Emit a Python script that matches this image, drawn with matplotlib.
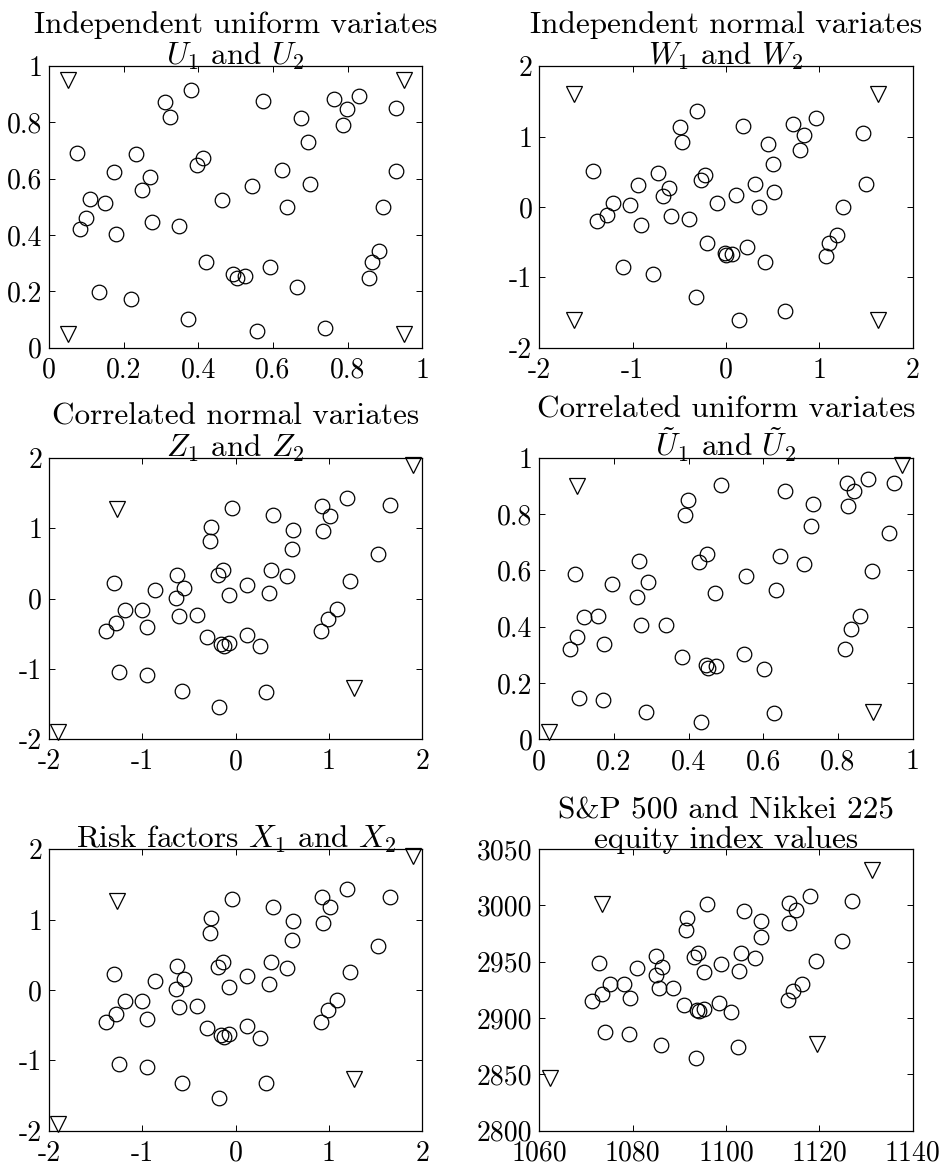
import matplotlib
matplotlib.use("Agg")
import matplotlib.pyplot as plt
from matplotlib.ticker import FuncFormatter

plt.rcParams["font.family"] = "cmr10"
plt.rcParams["mathtext.fontset"] = "cm"
plt.rcParams["axes.unicode_minus"] = False

# ── data ──────────────────────────────────────────────────────────────────────
# independent uniform variates U1, U2
u1 = [0.074, 0.083, 0.100, 0.110, 0.151, 0.174, 0.180, 0.134, 0.219, 0.233,
      0.249, 0.271, 0.277, 0.312, 0.323, 0.348, 0.380, 0.373, 0.396, 0.412,
      0.420, 0.464, 0.493, 0.504, 0.526, 0.543, 0.556, 0.574, 0.593, 0.624,
      0.638, 0.663, 0.674, 0.693, 0.699, 0.738, 0.763, 0.797, 0.788, 0.831,
      0.857, 0.865, 0.884, 0.896, 0.929, 0.930]
u2 = [0.693, 0.420, 0.459, 0.527, 0.515, 0.623, 0.402, 0.197, 0.173, 0.687,
      0.559, 0.606, 0.447, 0.872, 0.820, 0.433, 0.914, 0.102, 0.648, 0.675,
      0.303, 0.524, 0.260, 0.248, 0.253, 0.573, 0.058, 0.876, 0.286, 0.632,
      0.501, 0.217, 0.817, 0.731, 0.582, 0.070, 0.884, 0.849, 0.790, 0.895,
      0.246, 0.305, 0.344, 0.500, 0.852, 0.629]
u_tri1 = [0.05, 0.95, 0.05, 0.95]
u_tri2 = [0.95, 0.95, 0.05, 0.05]

# independent normal variates W1, W2
w1 = [-1.428, -1.385, -1.278, -1.214, -1.028, -0.938, -0.910, -1.106, -0.785, -0.731,
      -0.677, -0.613, -0.588, -0.488, -0.467, -0.395, -0.313, -0.324, -0.266, -0.220,
      -0.206, -0.091, -0.013, 0.002, 0.063, 0.105, 0.145, 0.184, 0.231, 0.313,
      0.356, 0.417, 0.449, 0.499, 0.517, 0.638, 0.717, 0.796, 0.835, 0.960,
      1.071, 1.100, 1.189, 1.257, 1.472, 1.497]
w2 = [0.506, -0.199, -0.109, 0.061, 0.033, 0.307, -0.251, -0.851, -0.955, 0.487,
      0.151, 0.270, -0.132, 1.130, 0.927, -0.170, 1.357, -1.277, 0.388, 0.459,
      -0.511, 0.057, -0.648, -0.686, -0.662, 0.170, -1.607, 1.154, -0.572, 0.331,
      0.000, -0.780, 0.898, 0.615, 0.208, -1.485, 1.182, 0.804, 1.026, 1.262,
      -0.695, -0.511, -0.397, 0.000, 1.054, 0.326]
w_tri1 = [-1.63, 1.63, -1.63, 1.63]
w_tri2 = [1.61, 1.61, -1.61, -1.61]

# correlated normal variates Z1, Z2 (also the risk factors X1, X2)
z1 = [-1.393, -1.307, -1.279, -1.250, -1.182, -1.004, -0.946, -0.950, -0.861, -0.629,
      -0.639, -0.550, -0.604, -0.575, -0.418, -0.304, -0.268, -0.279, -0.189, -0.136,
      -0.175, -0.154, -0.125, -0.071, -0.075, -0.036, 0.118, 0.125, 0.261, 0.325,
      0.354, 0.375, 0.404, 0.546, 0.607, 0.614, 0.914, 0.993, 0.925, 0.939,
      1.011, 1.089, 1.189, 1.225, 1.529, 1.654]
z2 = [-0.458, 0.221, -0.349, -1.046, -0.159, -0.159, -0.410, -1.089, 0.126, 0.339,
      0.007, 0.150, -0.244, -1.317, -0.235, -0.548, 1.023, 0.814, 0.330, 0.401,
      -1.535, -0.643, -0.671, -0.633, 0.045, 1.293, -0.515, 0.197, -0.681, -1.326,
      0.078, 0.401, 1.184, 0.315, 0.705, 0.980, -0.458, -0.287, 1.321, 0.956,
      1.179, -0.149, 1.431, 0.249, 0.629, 1.326]
z_tri1 = [1.90, -1.27, 1.27, -1.90]
z_tri2 = [1.90, 1.27, -1.27, -1.90]

# correlated uniform variates
v1 = [0.081, 0.100, 0.119, 0.096, 0.106, 0.156, 0.174, 0.172, 0.195, 0.261,
      0.267, 0.273, 0.292, 0.285, 0.339, 0.382, 0.391, 0.399, 0.427, 0.449,
      0.432, 0.446, 0.452, 0.474, 0.470, 0.488, 0.548, 0.554, 0.601, 0.629,
      0.635, 0.646, 0.659, 0.710, 0.727, 0.732, 0.820, 0.836, 0.860, 0.823,
      0.826, 0.844, 0.881, 0.890, 0.936, 0.950]
v2 = [0.321, 0.364, 0.435, 0.586, 0.148, 0.437, 0.340, 0.140, 0.550, 0.505,
      0.635, 0.405, 0.559, 0.096, 0.406, 0.292, 0.795, 0.849, 0.628, 0.657,
      0.060, 0.265, 0.253, 0.261, 0.518, 0.902, 0.304, 0.579, 0.248, 0.093,
      0.531, 0.652, 0.881, 0.623, 0.758, 0.836, 0.320, 0.390, 0.438, 0.909,
      0.830, 0.883, 0.925, 0.599, 0.732, 0.909]
v_tri1 = [0.100, 0.971, 0.895, 0.027]
v_tri2 = [0.898, 0.973, 0.098, 0.027]

# S&P 500 and Nikkei 225 index values
sp = [1071.4, 1072.9, 1073.4, 1074.0, 1075.2, 1078.2, 1079.4, 1079.3, 1080.9, 1085.0,
      1085.0, 1086.4, 1085.6, 1086.1, 1088.7, 1091.1, 1091.7, 1091.5, 1093.2, 1094.1,
      1093.5, 1093.9, 1094.3, 1095.2, 1095.2, 1095.9, 1098.6, 1098.9, 1101.0, 1102.5,
      1102.8, 1103.3, 1103.9, 1106.3, 1107.5, 1107.6, 1113.2, 1114.4, 1113.5, 1113.6,
      1115.0, 1116.3, 1118.1, 1119.2, 1124.8, 1127.0]
nk = [2915.4, 2948.5, 2921.3, 2887.6, 2930.2, 2930.2, 2917.8, 2886.1, 2944.4, 2955.3,
      2938.5, 2945.0, 2926.6, 2875.7, 2926.6, 2911.8, 2988.5, 2978.1, 2953.8, 2957.7,
      2864.2, 2907.1, 2906.5, 2908.0, 2940.5, 3001.2, 2913.3, 2948.2, 2905.0, 2874.6,
      2942.0, 2957.7, 2995.3, 2953.3, 2972.2, 2986.4, 2915.7, 2924.3, 3002.4, 2984.3,
      2995.6, 2930.5, 3008.3, 2950.6, 2968.6, 3003.6]
idx_tri1 = [1073.4, 1131.4, 1119.6, 1062.3]
idx_tri2 = [3000.9, 3031.9, 2876.6, 2846.4]

unit_ticks = [0, 0.2, 0.4, 0.6, 0.8, 1]
norm_ticks = [-2, -1, 0, 1, 2]
sp_ticks = [1060, 1080, 1100, 1120, 1140]
nk_ticks = [2800, 2850, 2900, 2950, 3000, 3050]

panels = [
    ("Independent uniform variates\n$U_1$ and $U_2$", u1, u2, u_tri1, u_tri2,
     unit_ticks, unit_ticks),
    ("Independent normal variates\n$W_1$ and $W_2$", w1, w2, w_tri1, w_tri2,
     norm_ticks, norm_ticks),
    ("Correlated normal variates\n$Z_1$ and $Z_2$", z1, z2, z_tri1, z_tri2,
     norm_ticks, norm_ticks),
    ("Correlated uniform variates\n$\\tilde{U}_1$ and $\\tilde{U}_2$", v1, v2, v_tri1, v_tri2,
     unit_ticks, unit_ticks),
    ("Risk factors $X_1$ and $X_2$", z1, z2, z_tri1, z_tri2,
     norm_ticks, norm_ticks),
    ("S&P 500 and Nikkei 225\nequity index values", sp, nk, idx_tri1, idx_tri2,
     sp_ticks, nk_ticks),
]

# ── figure ────────────────────────────────────────────────────────────────────
fig = plt.figure(figsize=(9.41, 11.69), dpi=100)
lefts = [0.0521, 0.5731]
bottoms = [0.7026, 0.3676, 0.0328]
W, H = 0.3967, 0.2408

fmt = FuncFormatter(lambda v, p: "%g" % v)

for i, (title, x, y, tx, ty, xt, yt) in enumerate(panels):
    ax = fig.add_axes([lefts[i % 2], bottoms[i // 2], W, H])
    ax.plot(x, y, "o", mfc="none", mec="k", ms=10.5, mew=0.9)
    ax.plot(tx, ty, "v", mfc="none", mec="k", ms=11.5, mew=0.9, clip_on=False)
    ax.set_xlim(xt[0], xt[-1])
    ax.set_ylim(yt[0], yt[-1])
    ax.set_xticks(xt)
    ax.set_yticks(yt)
    ax.xaxis.set_major_formatter(fmt)
    ax.yaxis.set_major_formatter(fmt)
    ax.tick_params(direction="in", top=True, right=True, length=4, width=0.7,
                   labelsize=20)
    ax.tick_params(axis="x", pad=7)
    ax.tick_params(axis="y", pad=5)
    for s in ax.spines.values():
        s.set_linewidth(0.9)
    ax.set_title(title, fontsize=22.5, linespacing=1.08, pad=1)

fig.savefig("out.png", dpi=100)
